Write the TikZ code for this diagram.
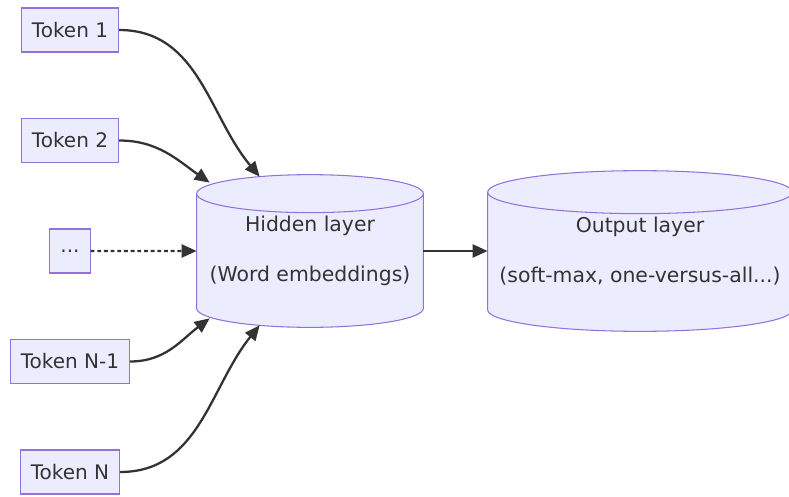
\documentclass[tikz,border=0pt]{standalone}
\usepackage{fontspec}
\newfontfamily\diagfont{DejaVu Sans}
\usetikzlibrary{arrows.meta, calc, backgrounds}

\definecolor{boxfill}{HTML}{ECECFF}
\definecolor{boxline}{HTML}{9370DB}
\definecolor{linkcol}{HTML}{333333}

% cylinder round a layer node: #1 node name, #2 radius of the rims
\newcommand{\layercyl}[2]{%
  \path[fill=boxfill, draw=boxline, line width=0.6pt]
    let \p1=(#1.north west), \p2=(#1.south east), \n1={(\x2-\x1)/2} in
    (\x1,\y1-#2) -- (\x1,\y2+#2)
      arc[start angle=180, end angle=360, x radius=\n1, y radius=#2]
      -- (\x2,\y1-#2)
      arc[start angle=0, end angle=180, x radius=\n1, y radius=#2]
      -- cycle
    (\x1,\y1-#2)
      arc[start angle=180, end angle=360, x radius=\n1, y radius=#2];
}

\begin{document}
\begin{tikzpicture}

        \tikzstyle{tokennode} = [draw=boxline, fill=boxfill, line width=0.6pt, text=linkcol, font=\diagfont\fontsize{11.4}{13.5}\selectfont, minimum height=0.88cm, inner xsep=0.21cm];
        \tikzstyle{layernode} = [text=linkcol, font=\diagfont\fontsize{11.6}{28.5}\selectfont, align=center, inner sep=0];
        \tikzstyle{arrow} = [draw=linkcol, line width=1.3pt, -{Triangle[length=0.3cm, width=0.26cm]}];

        \useasboundingbox (0,0) rectangle (15.78,9.92);

        \node[tokennode] (T1) at (1.4,9.32) {Token 1};
        \node[tokennode] (T2) at ([yshift=-2.21cm]T1) {Token 2};
        \node[tokennode] (TD) at ([yshift=-2.21cm]T2) {...};
        \node[tokennode] (TN1) at ([yshift=-2.21cm]TD) {Token N-1};
        \node[tokennode] (TN) at ([yshift=-2.21cm]TN1) {Token N};

        \node[layernode, minimum width=4.52cm, minimum height=3.04cm] (HL) at (6.2,4.9) {Hidden layer\\(Word embeddings)};
        \node[layernode, minimum width=6.08cm, minimum height=3.2cm] (OL) at ([xshift=6.6cm]HL) {Output layer\\(soft-max, one-versus-all...)};

        \begin{scope}[on background layer]
            \layercyl{HL}{0.38cm}
            \layercyl{OL}{0.43cm}
        \end{scope}


        \draw[arrow] (T1.east) to[out=0, in=130] ([shift={(1.26,-0.04)}]HL.north west);
        \draw[arrow] (T2.east) to[out=0, in=145] ([shift={(0.26,-0.16)}]HL.north west);
        \draw[arrow, dash pattern=on 2.2pt off 1.6pt] (TD.east) -- (HL.west);
        \draw[arrow] (TN1.east) to[out=0, in=-143] ([shift={(0.26,0.18)}]HL.south west);
        \draw[arrow] (TN.east) to[out=0, in=-129] ([shift={(1.26,0.04)}]HL.south west);

        \draw[arrow] (HL.east) -- (OL.west);

\end{tikzpicture}
\end{document}
